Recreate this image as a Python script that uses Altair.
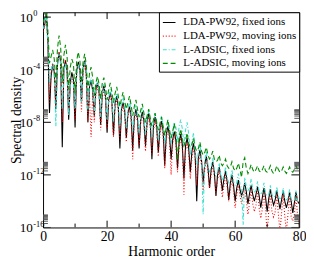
import altair as alt
import pandas as pd

# ---- data (log10 of spectral density) ----
series_names = ["LDA-PW92, fixed ions", "LDA-PW92, moving ions",
                "L-ADSIC, fixed ions", "L-ADSIC, moving ions"]
series_colors = ["#000000", "#ff0000", "#40e0d0", "#008b00"]
series_dashes = [[1, 0], [1, 2], [4, 2, 1, 2], [5, 3]]

harmonic = [i / 2 for i in range(161)]

lda_fixed = [
    -1.0, -0.6, 0.3, -1.8, -7.3, -4.5, -3.6, -4.2, -7.0, -3.6,
    -2.7, -3.4, -9.9, -4.0, -3.3, -4.1, -7.8, -5.0, -4.2, -4.8,
    -8.4, -4.1, -3.4, -4.0, -6.5, -3.9, -3.3, -4.3, -8.0, -5.3,
    -4.8, -5.6, -7.5, -5.5, -5.0, -5.7, -8.2, -5.8, -5.2, -6.0,
    -8.8, -6.3, -5.7, -6.4, -9.0, -6.5, -6.0, -6.8, -10.0, -7.0,
    -6.5, -7.1, -9.2, -7.3, -6.8, -7.5, -10.1, -7.6, -7.0, -7.7,
    -10.0, -7.8, -7.2, -7.9, -9.8, -7.9, -7.3, -8.1, -10.8, -8.2,
    -7.6, -8.3, -10.3, -8.5, -7.9, -8.6, -11.3, -8.9, -8.3, -9.0,
    -10.8, -9.3, -8.7, -9.4, -11.5, -9.5, -8.9, -9.7, -12.3, -9.8,
    -9.2, -10.0, -11.8, -10.2, -9.6, -10.4, -14.0, -10.7, -10.1, -10.9,
    -12.6, -11.2, -10.6, -11.4, -13.0, -11.6, -11.0, -11.8, -13.6, -12.0,
    -11.4, -12.1, -13.2, -12.3, -11.7, -12.5, -13.9, -12.6, -12.0, -12.8,
    -14.0, -13.0, -12.4, -13.1, -13.6, -13.2, -12.6, -13.3, -14.2, -13.4,
    -12.8, -13.5, -14.0, -13.5, -12.9, -13.6, -14.5, -13.7, -13.0, -13.7,
    -14.8, -13.8, -13.1, -13.8, -14.3, -13.9, -13.2, -13.9, -14.6, -13.9,
    -13.2, -14.0, -14.5, -14.0, -13.3, -14.0, -14.9, -14.1, -13.3, -14.0,
    -14.2,
]

lda_moving = [
    -1.1, -0.7, 0.2, -2.0, -6.5, -4.3, -3.5, -4.1, -6.8, -3.5,
    -2.6, -3.3, -8.0, -3.9, -3.2, -4.0, -7.0, -5.2, -4.5, -5.0,
    -7.8, -4.3, -3.6, -4.2, -7.2, -4.3, -3.6, -4.6, -8.0, -6.0,
    -9.1, -5.8, -8.0, -5.9, -5.3, -6.0, -8.6, -6.1, -5.5, -6.3,
    -8.5, -6.5, -5.9, -6.7, -9.1, -6.9, -6.3, -7.1, -9.3, -7.3,
    -6.7, -7.4, -9.5, -7.6, -7.0, -7.8, -10.8, -7.9, -7.3, -8.0,
    -9.8, -8.1, -7.4, -8.2, -10.2, -8.3, -7.6, -8.4, -10.5, -8.6,
    -7.9, -8.7, -10.6, -8.9, -8.2, -9.0, -11.5, -9.3, -8.6, -9.4,
    -12.0, -9.6, -8.9, -9.7, -11.8, -9.9, -9.2, -10.0, -13.5, -10.2,
    -9.5, -10.4, -12.3, -10.7, -10.0, -10.8, -12.8, -11.1, -10.5, -11.3,
    -13.2, -11.6, -10.9, -11.7, -13.0, -12.0, -11.3, -12.1, -13.5, -12.4,
    -11.7, -12.5, -13.7, -12.8, -12.0, -12.9, -14.0, -13.1, -12.3, -13.2,
    -14.5, -13.5, -12.7, -13.6, -14.2, -13.8, -12.9, -14.0, -15.0, -14.1,
    -13.1, -14.2, -14.8, -14.3, -13.2, -14.5, -15.3, -14.6, -13.3, -14.6,
    -16.5, -14.7, -13.4, -14.8, -15.2, -14.8, -13.5, -15.0, -16.3, -14.9,
    -13.5, -15.1, -16.3, -15.0, -13.6, -15.2, -15.5, -15.0, -13.6, -15.1,
    -15.8,
]

adsic_fixed = [
    -0.9, -0.5, 0.2, -1.9, -5.0, -4.0, -3.5, -4.4, -8.3, -3.7,
    -2.8, -3.6, -7.0, -4.2, -3.5, -4.4, -7.5, -5.2, -4.6, -5.1,
    -7.0, -4.3, -3.6, -4.1, -6.5, -4.0, -3.4, -4.2, -7.2, -5.1,
    -4.6, -5.3, -7.3, -5.4, -4.9, -5.6, -7.6, -5.7, -5.1, -5.9,
    -7.8, -6.1, -5.5, -6.2, -8.0, -6.3, -5.8, -6.5, -8.3, -6.7,
    -6.1, -6.8, -8.5, -7.0, -6.4, -7.1, -8.7, -7.3, -6.7, -7.4,
    -8.8, -7.5, -6.9, -7.6, -9.0, -7.7, -7.1, -7.8, -9.2, -7.9,
    -7.3, -8.0, -9.4, -8.2, -7.5, -8.3, -9.6, -8.5, -7.8, -8.6,
    -9.6, -8.6, -8.0, -8.4, -9.5, -8.3, -7.8, -8.5, -9.8, -8.6,
    -8.0, -8.9, -10.5, -9.5, -8.8, -10.1, -11.2, -10.3, -9.6, -10.7,
    -15.0, -10.9, -10.2, -11.2, -11.8, -11.4, -10.7, -11.6, -12.2, -11.8,
    -11.1, -12.0, -12.4, -12.1, -11.4, -12.2, -12.6, -12.4, -11.6, -12.5,
    -12.8, -12.6, -11.9, -12.7, -13.0, -15.8, -12.2, -12.9, -13.2, -13.0,
    -12.3, -13.1, -13.3, -13.2, -12.5, -13.3, -13.5, -13.3, -12.6, -13.4,
    -13.6, -13.5, -12.8, -13.5, -13.7, -13.6, -12.9, -13.7, -13.8, -13.7,
    -13.0, -13.8, -13.9, -13.8, -13.1, -13.9, -14.0, -13.9, -13.2, -14.0,
    -14.0,
]

adsic_moving = [
    -0.4, 0.0, 0.8, -1.0, -3.5, -3.0, -2.5, -3.2, -5.0, -2.4,
    -1.4, -2.3, -5.0, -2.9, -2.1, -3.0, -5.5, -3.8, -3.2, -3.6,
    -5.8, -3.3, -2.65, -3.3, -5.0, -3.4, -2.8, -3.6, -5.6, -4.3,
    -3.8, -4.6, -6.0, -5.0, -4.5, -5.1, -6.2, -5.0, -4.6, -5.3,
    -6.3, -5.5, -5.0, -5.7, -6.5, -5.8, -5.3, -6.0, -6.8, -6.2,
    -5.7, -6.4, -7.0, -6.5, -6.0, -6.7, -7.5, -6.8, -6.3, -7.0,
    -7.6, -7.1, -6.6, -7.3, -8.0, -7.5, -7.0, -7.7, -8.3, -7.8,
    -7.3, -8.0, -8.6, -8.1, -7.6, -8.3, -9.0, -8.4, -7.8, -8.6,
    -9.2, -8.7, -8.1, -8.9, -10.9, -9.1, -8.5, -9.3, -9.8, -9.4,
    -8.8, -9.6, -9.9, -9.7, -9.2, -9.9, -10.2, -10.0, -9.5, -10.2,
    -10.5, -10.3, -9.9, -10.5, -10.8, -10.6, -10.2, -10.8, -11.0, -10.9,
    -10.5, -11.1, -11.3, -11.1, -10.8, -11.3, -11.5, -11.4, -11.0, -11.5,
    -11.7, -11.5, -11.1, -11.6, -12.2, -11.0, -10.7, -11.5, -11.9, -11.6,
    -11.2, -11.6, -11.8, -11.6, -11.3, -11.7, -11.8, -11.6, -11.3, -11.7,
    -11.8, -11.6, -11.3, -11.7, -11.9, -11.7, -11.3, -11.6, -11.8, -11.7,
    -11.4, -11.7, -11.9, -11.7, -11.4, -11.7, -11.8, -11.6, -11.3, -11.6,
    -11.7,
]

x_major = [0, 20, 40, 60, 80]
x_minor = [10, 30, 50, 70]
y_major = [1e-16, 1e-12, 1e-8, 1e-4, 1.0]
y_major_exp = ["-16", "-12", "-8", "-4", "0"]

Y_MAX = 10 ** 0.37
y_minor = [m * 10.0 ** p for p in (-16, -12, -8, -4, 0) for m in range(2, 10)]
y_minor = [v for v in y_minor if v < Y_MAX]

rows = []
for name, exps in zip(series_names, [lda_fixed, lda_moving, adsic_fixed, adsic_moving]):
    for h, e in zip(harmonic, exps):
        rows.append({"series": name, "order": h, "density": 10.0 ** e})
df = pd.DataFrame(rows)

W, H = 263, 221
FONT = "Liberation Serif"

xscale = alt.Scale(domain=[0, 80], nice=False, zero=False)
yscale = alt.Scale(type="log", domain=[1e-16, Y_MAX], nice=False)

lines = alt.Chart(df).mark_line(strokeWidth=1.1, clip=True).encode(
    x=alt.X("order:Q", scale=xscale,
            axis=alt.Axis(values=x_major, ticks=False, tickSize=0, domain=False, grid=False,
                          labelFont=FONT, labelFontSize=14, labelColor="black",
                          labelFlush=False, labelBaseline="alphabetic", labelPadding=13,
                          title="Harmonic order", titleFont=FONT, titleFontSize=14,
                          titleFontWeight="normal", titleColor="black",
                          titleBaseline="alphabetic", titleY=28.3)),
    y=alt.Y("density:Q", scale=yscale,
            axis=alt.Axis(labels=False, ticks=False, tickSize=0, domain=False, grid=False,
                          title="Spectral density", titleFont=FONT, titleFontSize=14,
                          titleFontWeight="normal", titleColor="black",
                          titleAngle=270, titleBaseline="alphabetic", titleAlign="center",
                          titleX=-23.5, titleY=H / 2)),
    color=alt.Color("series:N", scale=alt.Scale(domain=series_names, range=series_colors),
                    legend=alt.Legend(title=None)),
    strokeDash=alt.StrokeDash("series:N", scale=alt.Scale(domain=series_names, range=series_dashes),
                              legend=alt.Legend(title=None)),
)

ymaj_df = pd.DataFrame({"v": y_major, "exp": y_major_exp})
ymin_df = pd.DataFrame({"v": y_minor})
xmaj_df = pd.DataFrame({"v": x_major})
xmin_df = pd.DataFrame({"v": x_minor})


def yticks(data, x0, x1, color):
    return alt.Chart(data).mark_rule(color=color, strokeWidth=1, clip=True).encode(
        y=alt.Y("v:Q", scale=yscale, axis=None), x=alt.value(x0), x2=alt.value(x1))


def xticks(data, y0, y1, color):
    return alt.Chart(data).mark_rule(color=color, strokeWidth=1, clip=True).encode(
        x=alt.X("v:Q", scale=xscale, axis=None), y=alt.value(y0), y2=alt.value(y1))


tick_layers = [
    yticks(ymaj_df, 0, 8, "black"), yticks(ymaj_df, W, W - 8, "black"),
    yticks(ymin_df, 0, 5, "#555555"), yticks(ymin_df, W, W - 5, "#555555"),
    xticks(xmaj_df, H, H - 7, "black"), xticks(xmaj_df, 0, 7, "black"),
    xticks(xmin_df, H, H - 4, "black"), xticks(xmin_df, 0, 4, "black"),
]

ylab_base = alt.Chart(ymaj_df).mark_text(
    text="10", align="right", baseline="middle", font=FONT, fontSize=13.5, color="black", dy=1
).encode(y=alt.Y("v:Q", scale=yscale, axis=None), x=alt.value(-10.5))

ylab_exp = alt.Chart(ymaj_df).mark_text(
    align="left", baseline="middle", font=FONT, fontSize=8.5, color="black", dy=-4
).encode(y=alt.Y("v:Q", scale=yscale, axis=None), x=alt.value(-10), text="exp:N")

chart = alt.layer(lines, *tick_layers, ylab_base, ylab_exp).resolve_axis(
    x="independent", y="independent"
).properties(
    width=W, height=H,
    autosize=alt.AutoSizeParams(type="none"),
    padding={"left": 36, "top": 1, "right": 7, "bottom": 29},
).configure_view(
    stroke="black", strokeWidth=1
).configure_legend(
    orient="top-right", offset=0, padding=3, strokeColor="black", fillColor="white",
    cornerRadius=0, labelFont=FONT, labelFontSize=11.2, labelColor="black",
    symbolType="stroke", symbolSize=169, symbolStrokeWidth=1.2, labelOffset=7,
    rowPadding=1, labelLimit=300,
)

chart.save("out.html", embed_options={"renderer": "svg", "actions": False})
